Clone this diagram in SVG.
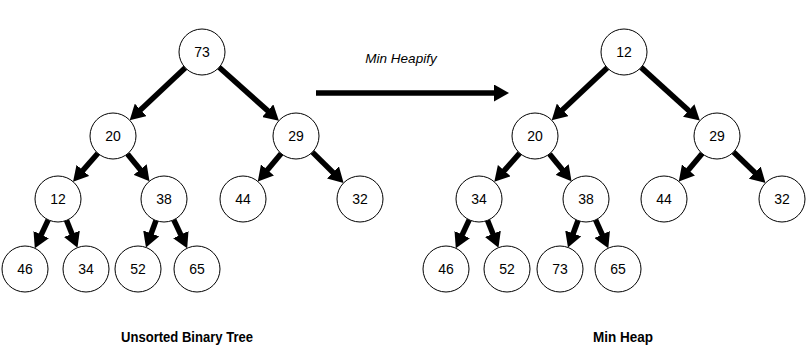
<svg xmlns="http://www.w3.org/2000/svg" width="810" height="362" viewBox="0 0 810 362">
<style>
.n circle{fill:#fff;stroke:#000;stroke-width:1}
.n text{font-family:"Liberation Sans",Arial,sans-serif;font-size:14px;fill:#000;text-anchor:middle;dominant-baseline:central}
.e line{stroke:#000;stroke-width:5.5;marker-end:url(#ah)}
.lbl{font-family:"Liberation Sans",Arial,sans-serif;font-weight:bold;font-size:15px;fill:#000;text-anchor:middle}
.cap{font-family:"Liberation Sans",Arial,sans-serif;font-style:italic;font-size:13.5px;fill:#000;text-anchor:middle}
</style>
<defs>
<marker id="ah" markerUnits="userSpaceOnUse" markerWidth="16" markerHeight="17" refX="4" refY="8.5" orient="auto">
<path d="M0,0 L15,8.5 L0,17 z" fill="#000"/>
</marker>
</defs>
<rect width="810" height="362" fill="#fff"/>
<g id="connectors" class="e">
<line x1="185.3" y1="67.8" x2="137.7" y2="112.6"/>
<line x1="219.1" y1="67.3" x2="270.7" y2="113.4"/>
<line x1="97.9" y1="153.3" x2="80.3" y2="173.4"/>
<line x1="127.5" y1="153.9" x2="142.6" y2="172.6"/>
<line x1="281.2" y1="153.6" x2="264.9" y2="173"/>
<line x1="312.4" y1="152.1" x2="335.8" y2="175.2"/>
<line x1="48.2" y1="219.8" x2="39.5" y2="238.3"/>
<line x1="66.5" y1="220.3" x2="73.4" y2="237.5"/>
<line x1="156" y1="220.5" x2="149.8" y2="237.2"/>
<line x1="173.8" y1="219.8" x2="182.5" y2="238.3"/>
<line x1="607.3" y1="67.8" x2="559.7" y2="112.6"/>
<line x1="641.1" y1="67.4" x2="691.7" y2="113.2"/>
<line x1="519.7" y1="153.2" x2="501.6" y2="173.6"/>
<line x1="549.5" y1="153.9" x2="564.6" y2="172.6"/>
<line x1="702.2" y1="153.6" x2="685.9" y2="173"/>
<line x1="733.5" y1="152" x2="757.6" y2="175.3"/>
<line x1="469.2" y1="219.8" x2="460.5" y2="238.3"/>
<line x1="487.5" y1="220.3" x2="494.4" y2="237.5"/>
<line x1="578" y1="220.5" x2="571.8" y2="237.2"/>
<line x1="595.6" y1="219.9" x2="603.8" y2="238.1"/>
<line x1="316" y1="93" x2="498" y2="93"/>
</g>
<text class="cap" x="401" y="63">Min Heapify</text>
<g id="L73" class="n"><circle cx="202" cy="52" r="23"/><text x="202" y="52">73</text></g>
<g id="L20" class="n"><circle cx="113" cy="136" r="23"/><text x="113" y="136">20</text></g>
<g id="L29" class="n"><circle cx="296" cy="136" r="23"/><text x="296" y="136">29</text></g>
<g id="L12" class="n"><circle cx="58" cy="199" r="23"/><text x="58" y="199">12</text></g>
<g id="L38" class="n"><circle cx="164" cy="199" r="23"/><text x="164" y="199">38</text></g>
<g id="L44" class="n"><circle cx="243" cy="199" r="23"/><text x="243" y="199">44</text></g>
<g id="L32" class="n"><circle cx="360" cy="199" r="23"/><text x="360" y="199">32</text></g>
<g id="L46" class="n"><circle cx="25" cy="269" r="23"/><text x="25" y="269">46</text></g>
<g id="L34" class="n"><circle cx="86" cy="269" r="23"/><text x="86" y="269">34</text></g>
<g id="L52" class="n"><circle cx="138" cy="269" r="23"/><text x="138" y="269">52</text></g>
<g id="L65" class="n"><circle cx="197" cy="269" r="23"/><text x="197" y="269">65</text></g>
<g id="R12" class="n"><circle cx="624" cy="52" r="23"/><text x="624" y="52">12</text></g>
<g id="R20" class="n"><circle cx="535" cy="136" r="23"/><text x="535" y="136">20</text></g>
<g id="R29" class="n"><circle cx="717" cy="136" r="23"/><text x="717" y="136">29</text></g>
<g id="R34" class="n"><circle cx="479" cy="199" r="23"/><text x="479" y="199">34</text></g>
<g id="R38" class="n"><circle cx="586" cy="199" r="23"/><text x="586" y="199">38</text></g>
<g id="R44" class="n"><circle cx="664" cy="199" r="23"/><text x="664" y="199">44</text></g>
<g id="R32" class="n"><circle cx="782" cy="199" r="23"/><text x="782" y="199">32</text></g>
<g id="R46" class="n"><circle cx="446" cy="269" r="23"/><text x="446" y="269">46</text></g>
<g id="R52" class="n"><circle cx="507" cy="269" r="23"/><text x="507" y="269">52</text></g>
<g id="R73" class="n"><circle cx="560" cy="269" r="23"/><text x="560" y="269">73</text></g>
<g id="R65" class="n"><circle cx="618" cy="269" r="23"/><text x="618" y="269">65</text></g>
<text class="lbl" x="187" y="342" textLength="132" lengthAdjust="spacingAndGlyphs">Unsorted Binary Tree</text>
<text class="lbl" x="623" y="342" textLength="60" lengthAdjust="spacingAndGlyphs">Min Heap</text>
</svg>
